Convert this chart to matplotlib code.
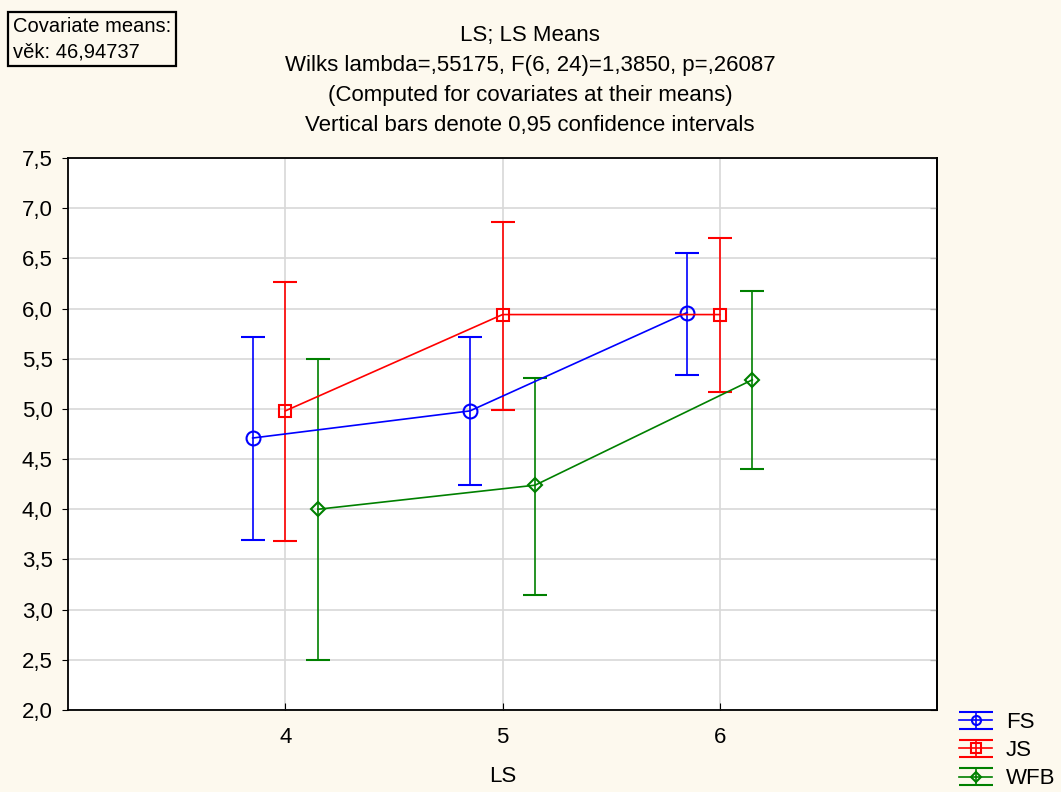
import matplotlib
matplotlib.use("Agg")
import matplotlib.pyplot as plt
from matplotlib.lines import Line2D
from matplotlib.legend_handler import HandlerErrorbar
import numpy as np

plt.rcParams['font.family'] = ['Liberation Sans', 'DejaVu Sans']

levels = [4, 5, 6]
groups = ["FS", "JS", "WFB"]
colors = ["#0000FF", "#FF0000", "#008000"]
markers = ["o", "s", "D"]
offsets = [-0.15, 0.0, 0.15]

means = {
    "FS":  [4.71, 4.98, 5.96],
    "JS":  [4.98, 5.94, 5.94],
    "WFB": [4.00, 4.24, 5.29],
}
lower = {
    "FS":  [3.69, 4.24, 5.34],
    "JS":  [3.68, 4.99, 5.17],
    "WFB": [2.50, 3.15, 4.40],
}
upper = {
    "FS":  [5.72, 5.72, 6.55],
    "JS":  [6.26, 6.86, 6.70],
    "WFB": [5.50, 5.31, 6.17],
}

title_lines = ["LS; LS Means",
               "Wilks lambda=,55175, F(6, 24)=1,3850, p=,26087",
               "(Computed for covariates at their means)",
               "Vertical bars denote 0,95 confidence intervals"]
yticks = [2.0, 2.5, 3.0, 3.5, 4.0, 4.5, 5.0, 5.5, 6.0, 6.5, 7.0, 7.5]
ytick_labels = [f"{v:.1f}".replace(".", ",") for v in yticks]

bg = "#FDF9EE"
fs = 16
fig = plt.figure(figsize=(10.61, 7.92), dpi=100, facecolor=bg)
ax = fig.add_axes([68/1061, 1-710/792, (937-68)/1061, (710-158)/792])
ax.set_facecolor("white")

handles = []
msizes = {"o": 10, "s": 8.5, "D": 7.5}
for g, c, m, off in zip(groups, colors, markers, offsets):
    x = np.array(levels) + off
    y = np.array(means[g])
    yerr = np.vstack([y - np.array(lower[g]), np.array(upper[g]) - y])
    h = ax.errorbar(x, y, yerr=yerr, color=c, marker=m, markersize=msizes[m],
                    markerfacecolor="none", markeredgecolor=c, markeredgewidth=1.5,
                    linewidth=1.2, elinewidth=1.2, capsize=8.5, capthick=1.2,
                    label=g, zorder=3)
    handles.append(h)

ax.set_xlim(3, 7)
ax.set_ylim(2.0, 7.5)
ax.set_xticks(levels)
ax.set_xticklabels([str(v) for v in levels], fontsize=fs)
ax.set_yticks(yticks)
ax.set_yticklabels(ytick_labels, fontsize=fs)
ax.grid(True, color="#D8D8D8", linewidth=1.2, zorder=0)
ax.set_axisbelow(True)
for s in ax.spines.values():
    s.set_linewidth(1.3)
    s.set_color("black")
ax.tick_params(axis="x", direction="in", length=5, pad=12)
ax.tick_params(axis="y", direction="out", length=4, pad=7)
sec = ax.secondary_yaxis("right")
sec.set_yticks(yticks)
sec.tick_params(direction="in", length=5, labelright=False)
sec.spines["right"].set_linewidth(1.3)
ax.set_xlabel("LS", fontsize=fs, labelpad=13)

for i, line in enumerate(title_lines):
    fig.text(530/1061, 1-(35+30*i)/792, line, ha="center", va="center", fontsize=fs)

fig.text(13/1061, 1-39/792, "Covariate means:\nvěk: 46,94737", ha="left", va="center",
         fontsize=14.5, linespacing=1.4,
         bbox=dict(boxstyle="square,pad=0.25", facecolor=bg, edgecolor="black", linewidth=1.6))

leg = fig.legend(handles, groups, loc="lower right", bbox_to_anchor=(1.006, -0.012),
                 frameon=False, fontsize=fs, handlelength=1.5, handleheight=0.7,
                 labelspacing=0.32, handletextpad=0.6, borderaxespad=0.15,
                 handler_map={type(handles[0]): HandlerErrorbar(yerr_size=0.38, numpoints=1)})
for ln in leg.findobj(Line2D):
    mk = ln.get_marker()
    if mk == "_":
        ln.set_markersize(24)
    elif mk in ("o", "s", "D"):
        ln.set_markersize(6.5 if mk != "D" else 5.5)

fig.savefig("out.png", dpi=100, facecolor=bg)
